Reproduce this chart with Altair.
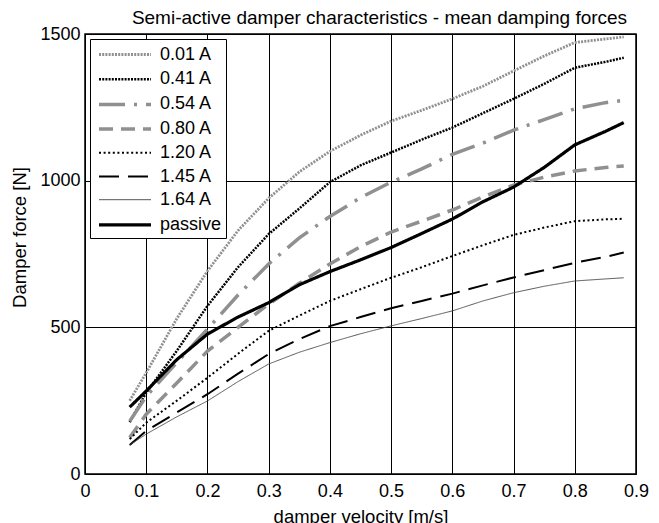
import altair as alt
import pandas as pd

velocity = [0.073, 0.1, 0.15, 0.2, 0.25, 0.3, 0.35, 0.4, 0.45, 0.5, 0.55, 0.6,
            0.65, 0.7, 0.75, 0.8, 0.85, 0.88]

f_001 = [250, 345, 530, 692, 830, 940, 1030, 1100, 1155, 1203, 1240, 1279,
         1322, 1374, 1425, 1471, 1483, 1490]
f_041 = [177, 277, 420, 573, 705, 818, 905, 995, 1052, 1096, 1140, 1181,
         1230, 1279, 1330, 1385, 1405, 1419]
f_054 = [180, 265, 380, 494, 610, 716, 805, 878, 942, 995, 1040, 1090,
         1128, 1172, 1208, 1245, 1266, 1274]
f_080 = [124, 204, 310, 419, 500, 579, 650, 716, 775, 825, 862, 900,
         945, 985, 1012, 1033, 1045, 1050]
f_120 = [119, 175, 250, 328, 410, 488, 540, 590, 630, 669, 705, 743,
         780, 815, 840, 862, 868, 870]
f_145 = [99, 147, 210, 272, 342, 409, 460, 504, 535, 565, 590, 615,
         643, 670, 695, 720, 740, 755]
f_164 = [99, 136, 195, 249, 315, 375, 415, 448, 478, 505, 530, 556,
         590, 618, 640, 658, 665, 669]
f_pas = [228, 283, 390, 477, 535, 584, 645, 690, 730, 772, 820, 869,
         928, 978, 1045, 1122, 1168, 1198]

series_names = ["0.01 A", "0.41 A", "0.54 A", "0.80 A", "1.20 A", "1.45 A", "1.64 A", "passive"]
series_values = [f_001, f_041, f_054, f_080, f_120, f_145, f_164, f_pas]

gray = "#909090"
colors = [gray, "#000000", gray, gray, "#000000", "#000000", "#444444", "#000000"]
dashes = [[2, 1.2], [2, 1.2], [26, 9, 3, 9], [14, 8], [2, 2.6], [20, 9], [1, 0], [1, 0]]
widths = [2.8, 2.5, 3.5, 3.5, 2, 2, 0.9, 3.2]

rows = []
for name, vals in zip(series_names, series_values):
    for v, f in zip(velocity, vals):
        rows.append({"velocity": v, "force": f, "series": name})
df = pd.DataFrame(rows)

legend = alt.Legend(
    title=None,
    orient="none",
    legendX=5,
    legendY=5,
    fillColor="white",
    strokeColor="black",
    padding=4,
    symbolType="M-2.6,0H2.6",
    symbolSize=400,
    symbolOffset=19,
    labelOffset=23,
    rowPadding=3.7,
    labelFontSize=18,
    labelFont="Liberation Sans",
    labelColor="black",
)

chart = (
    alt.Chart(df)
    .mark_line(strokeCap="butt")
    .encode(
        x=alt.X("velocity:Q",
                scale=alt.Scale(domain=[0, 0.9], nice=False),
                axis=alt.Axis(values=[0, 0.1, 0.2, 0.3, 0.4, 0.5, 0.6, 0.7, 0.8, 0.9],
                              format=".1~f", title="damper velocity [m/s]")),
        y=alt.Y("force:Q",
                scale=alt.Scale(domain=[0, 1500], nice=False),
                axis=alt.Axis(values=[0, 500, 1000, 1500], format="d",
                              title="Damper force [N]", titleY=203)),
        color=alt.Color("series:N", scale=alt.Scale(domain=series_names, range=colors), legend=legend),
        strokeDash=alt.StrokeDash("series:N", scale=alt.Scale(domain=series_names, range=dashes), legend=legend),
        strokeWidth=alt.StrokeWidth("series:N", scale=alt.Scale(type="ordinal", domain=series_names, range=widths), legend=legend),
        order=alt.Order("velocity:Q"),
    )
    .properties(
        width=551,
        height=440,
        padding={"left": 2, "top": 0, "right": 0, "bottom": 0},
        title=alt.Title("Semi-active damper characteristics - mean damping forces",
                        fontSize=19, font="Liberation Sans", fontWeight="normal",
                        color="black", frame="group", offset=-2.5, dx=19),
    )
    .configure_view(stroke="black", strokeWidth=1.5)
    .configure_axis(
        grid=True, gridColor="black", gridOpacity=1, gridWidth=1,
        domain=False, ticks=False, labelFlush=False,
        labelFont="Liberation Sans", labelFontSize=18, labelColor="black",
        titleFont="Liberation Sans", titleFontSize=18.5, titleFontWeight="normal",
        titleColor="black",
    )
    .configure_axisX(labelPadding=8, titlePadding=7)
    .configure_axisY(labelPadding=5, titlePadding=10)
)

chart.save("out.html", embed_options={"renderer": "svg", "actions": False})
